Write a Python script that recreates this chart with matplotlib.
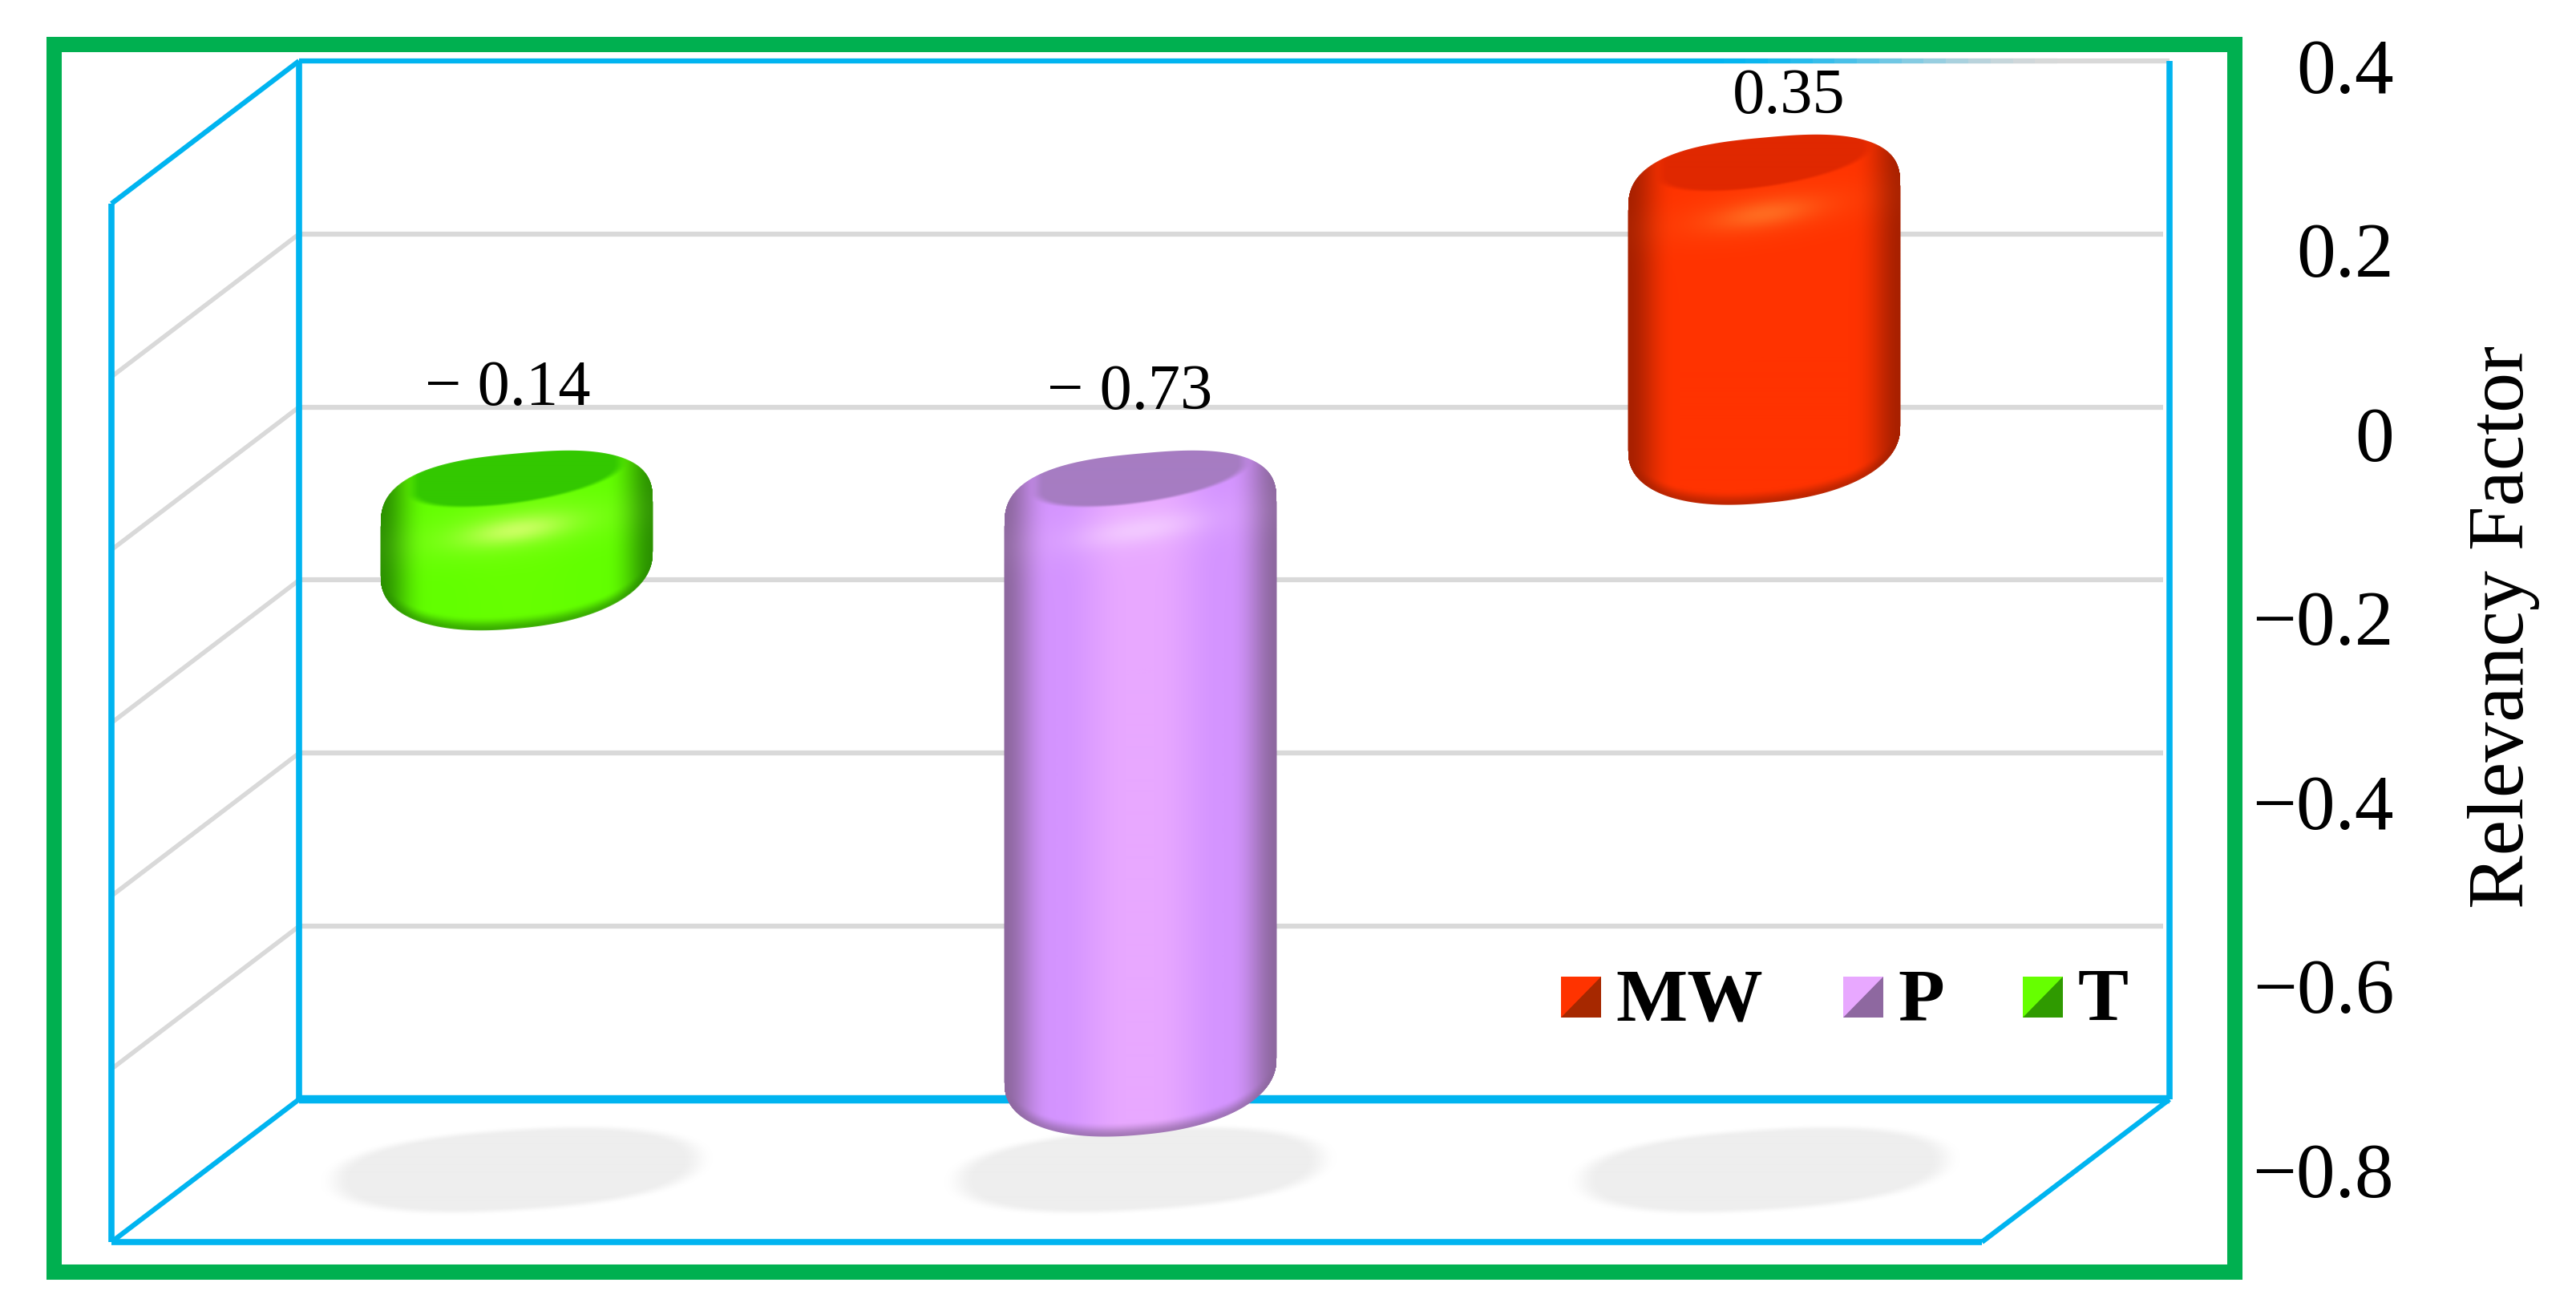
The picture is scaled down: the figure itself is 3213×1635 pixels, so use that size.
import numpy as np
import matplotlib
matplotlib.use("Agg")
import matplotlib.pyplot as plt
from matplotlib.collections import LineCollection
from matplotlib.colors import to_rgb
from matplotlib.patches import Polygon, Rectangle
from matplotlib.transforms import Affine2D

plt.rcParams["font.family"] = ["Liberation Serif", "DejaVu Serif"]

# data
categories = ["T", "P", "MW"]
bar_values = [-0.145, -0.73, 0.365]
value_labels = ["\u2212 0.14", "\u2212 0.73", "0.35"]
tick_values = [0.4, 0.2, 0, -0.2, -0.4, -0.6, -0.8]
tick_labels = ["0.4", "0.2", "0", "\u22120.2", "\u22120.4", "\u22120.6", "\u22120.8"]
grid_values = [0.2, 0, -0.2, -0.4, -0.6]
legend_labels = ["MW", "P", "T"]

# colours per category
body_colors = {"T": "#62FF00", "P": "#D494FF", "MW": "#FF3300"}
center_colors = {"T": "#66FF00", "P": "#E8A8FF", "MW": "#FF3300"}
edge_colors = {"T": "#2B9200", "P": "#8E68A0", "MW": "#A82000"}
face_colors = {"T": "#33C800", "P": "#A67CC2", "MW": "#E02800"}
shine_colors = {"T": "#C8FF60", "P": "#F2C8FF", "MW": "#FF6A20"}
legend_light = {"MW": "#FF3300", "P": "#E8A8FF", "T": "#66FF00"}
legend_dark = {"MW": "#A62800", "P": "#8E68A0", "T": "#2F9A00"}

BLUE = "#00B4F0"
GRID = "#D9D9D9"
GREEN = "#00B050"

W, H = 3213, 1635
# floor depth, in pixels
DX, DY = -234, -178

fig = plt.figure(figsize=(W / 100, H / 100), dpi=100)
ax = fig.add_axes([373 / W, 1 - 1371 / H, 2333 / W, 1295 / H])
ax.set_xlim(-0.5, 2.5)
ax.set_ylim(-0.8, 0.4)
ax.axis("off")


def depth(d):
    return ax.transData + Affine2D().translate(d * DX, d * DY)


def wall_line(x0, y0, d0, x1, y1, d1, color=BLUE, lw=5.5, z=2):
    # line between two points given as x, value, depth
    p0 = depth(d0).transform((x0, y0))
    p1 = depth(d1).transform((x1, y1))
    ln = plt.Line2D([p0[0], p1[0]], [p0[1], p1[1]], color=color, lw=lw, zorder=z,
                    transform=None, solid_capstyle="butt", clip_on=False)
    ax.add_line(ln)


def smooth(a, b, v):
    t = np.clip((v - a) / (b - a), 0, 1)
    return t * t * (3 - 2 * t)


def mix(base, col, t):
    return base * (1 - t[..., None]) + np.array(to_rgb(col)) * t[..., None]


# gridlines on back and side wall
xmin, xmax = ax.get_xlim()
ymin, ymax = ax.get_ylim()
for g in grid_values:
    wall_line(xmin, g, 0, xmax - 0.01, g, 0, color=GRID, lw=4.5, z=1)
    wall_line(xmin, g, 0, xmin, g, 1, color=GRID, lw=4.0, z=1)

# frame of the box
wall_line(xmin, ymax, 0, xmax, ymax, 0, color=GRID, lw=4.5, z=1)
wall_line(xmin, ymin, 0, xmin, ymax, 0)
wall_line(xmax, ymin, 0, xmax, ymax, 0)
wall_line(xmin, ymin, 1, xmin, ymax, 1)
wall_line(xmin, ymax, 0, xmin, ymax, 1, lw=4.5)
wall_line(xmin, ymin, 0, xmin, ymin, 1, lw=4.5)
wall_line(xmax, ymin, 0, xmax, ymin, 1, lw=4.5)
wall_line(xmin, ymin, 0, xmax, ymin, 0, lw=7.5)
wall_line(xmin, ymin, 1, xmax, ymin, 1, lw=5.5)

# top edge is blue and fades out to the right
fade_x = np.linspace(xmin, xmin + 0.94 * (xmax - xmin), 80)
segs = [[(fade_x[i], ymax), (fade_x[i + 1], ymax)] for i in range(79)]
fade = smooth(0.745, 0.94, (fade_x[:-1] - xmin) / (xmax - xmin))
seg_cols = [tuple(np.array(to_rgb(BLUE)) * (1 - f) + np.array(to_rgb(GRID)) * f) for f in fade]
ax.add_collection(LineCollection(segs, colors=seg_cols, linewidths=4.5, zorder=2, clip_on=False),
                  autolim=False)

ppx = 2333 / 3
ppy = 1295 / 1.2

# soft shadows on the floor
for i in range(len(categories)):
    xs = np.arange(-250, 251)
    ys = np.arange(-75, 76)
    X, Y = np.meshgrid(xs, ys)
    v = np.abs(Y + 0.06 * X)
    r = ((np.abs(X) / 228) ** 2.3 + (v / 50) ** 2.3) ** (1 / 2.3)
    img = np.ones((len(ys), len(xs), 4))
    img[..., :3] = to_rgb("#EEEEEE")
    img[..., 3] = 1 - smooth(0.9, 1.08, r)
    ax.imshow(img, extent=[i - 250.5 / ppx, i + 250.5 / ppx, ymin - 75.5 / ppy, ymin + 75.5 / ppy],
              transform=depth(0.5), aspect="auto", clip_on=False, zorder=3, interpolation="bilinear")

# the rounded cylinders
BW = 170
SH = 0.09
for i, (cat, val) in enumerate(zip(categories, bar_values)):
    top_val, bot_val = max(val, 0), min(val, 0)
    h_px = (top_val - bot_val) * ppy
    pad = 45
    xs = np.arange(-BW - 4, BW + 5)
    ys = np.arange(-pad, int(h_px) + pad)
    X, Y = np.meshgrid(xs, ys)
    u = np.clip(np.abs(X) / BW, 0, 1)
    cap_top = (1 - u ** 2.7) ** (1 / 2.7)
    cap_bot = (1 - u ** 2.25) ** (1 / 2.25)
    y_top = 44 - SH * X - 75 * cap_top
    y_bot = h_px - 50 - SH * X + 80 * cap_bot
    alpha = np.clip(Y - y_top + 0.5, 0, 1) * np.clip(y_bot - Y + 0.5, 0, 1) * np.clip(BW - np.abs(X) + 0.5, 0, 1)

    rgb = np.ones(X.shape + (3,)) * np.array(to_rgb(body_colors[cat]))
    rgb = mix(rgb, center_colors[cat], 1 - smooth(0.1, 0.6, u))
    # dark sides and dark rim along the bottom
    rgb = mix(rgb, edge_colors[cat], smooth(0.62, 1.0, u) ** 1.4)
    rgb = mix(rgb, edge_colors[cat], 0.75 * (1 - smooth(0, 18, y_bot - Y)))
    # glow and shine below the top face
    v = Y + 0.14 * X
    glow = np.exp(-((X / 120) ** 2 + ((v - 62) / 30) ** 2))
    rgb = mix(rgb, shine_colors[cat], 0.35 * glow)
    shine = np.exp(-((X / 58) ** 2 + ((v - 64) / 15) ** 2))
    rgb = mix(rgb, shine_colors[cat], shine)
    # top face, runs up to the outline
    r = (X / 130) ** 2 + (np.maximum(v, 0) / 30) ** 2
    rgb = mix(rgb, face_colors[cat], 1 - smooth(0.85, 1.15, r))

    img = np.dstack([np.clip(rgb, 0, 1), alpha])
    hw = (BW + 4.5) / ppx
    ax.imshow(img, extent=[i - hw, i + hw, bot_val - (pad - 0.5) / ppy, top_val + (pad + 0.5) / ppy],
              transform=depth(0.5), aspect="auto", clip_on=False, zorder=5, interpolation="bilinear")

ax.set_xlim(xmin, xmax)
ax.set_ylim(ymin, ymax)

# value labels, offset in pixels from the bar top
label_offsets = [(-12, 120), (-13, 115), (31, 90)]
for i, (val, txt, off) in enumerate(zip(bar_values, value_labels, label_offsets)):
    ax.annotate(txt, xy=(i, max(val, 0)), xycoords=depth(0.5), xytext=off, textcoords="offset pixels",
                ha="center", va="center_baseline", fontsize=58, color="black", zorder=6)

# the value axis has its own, slightly wider spacing
ax2 = fig.add_axes([373 / W, 1 - 1459 / H, 2333 / W, 1377 / H], facecolor="none")
ax2.set_ylim(-0.8, 0.4)
ax2.set_xticks([])
ax2.set_yticks(tick_values, tick_labels)
ax2.yaxis.tick_right()
ax2.tick_params(axis="y", length=0, pad=280 * 0.72, labelsize=70, labelcolor="black")
for lab in ax2.get_yticklabels():
    lab.set_horizontalalignment("right")
    lab.set_x(1.0)
for s in ax2.spines.values():
    s.set_visible(False)
ax2.yaxis.set_label_position("right")
ax2.set_ylabel("Relevancy Factor", fontsize=72, rotation=90, va="center", ha="center")
ax2.yaxis.set_label_coords(3123 / W, 1 - 782 / H, transform=fig.transFigure)

# outer green frame
fig.add_artist(Rectangle((67 / W, 1 - 1586 / H), (2787 - 67) / W, (1586 - 55) / H, fill=False,
                         edgecolor=GREEN, lw=13.7, transform=fig.transFigure, joinstyle="miter"))

# legend, swatches split along the diagonal
swatch_left = [1947, 2299, 2523]
text_left = [2015, 2367, 2592]
for name, sx, tx in zip(legend_labels, swatch_left, text_left):
    x0, x1 = sx / W, (sx + 50) / W
    y1, y0 = 1 - 1218 / H, 1 - 1269 / H
    fig.add_artist(Polygon([(x0, y0), (x0, y1), (x1, y1), (x1, y0)], closed=True,
                           facecolor=legend_light[name], edgecolor="none", transform=fig.transFigure))
    fig.add_artist(Polygon([(x0, y0), (x1, y1), (x1, y0)], closed=True,
                           facecolor=legend_dark[name], edgecolor="none", transform=fig.transFigure))
    fig.text(tx / W, 1 - 1272 / H, name, fontsize=68, fontweight="bold", ha="left", va="baseline", color="black")

fig.savefig("out.png", dpi=100)
